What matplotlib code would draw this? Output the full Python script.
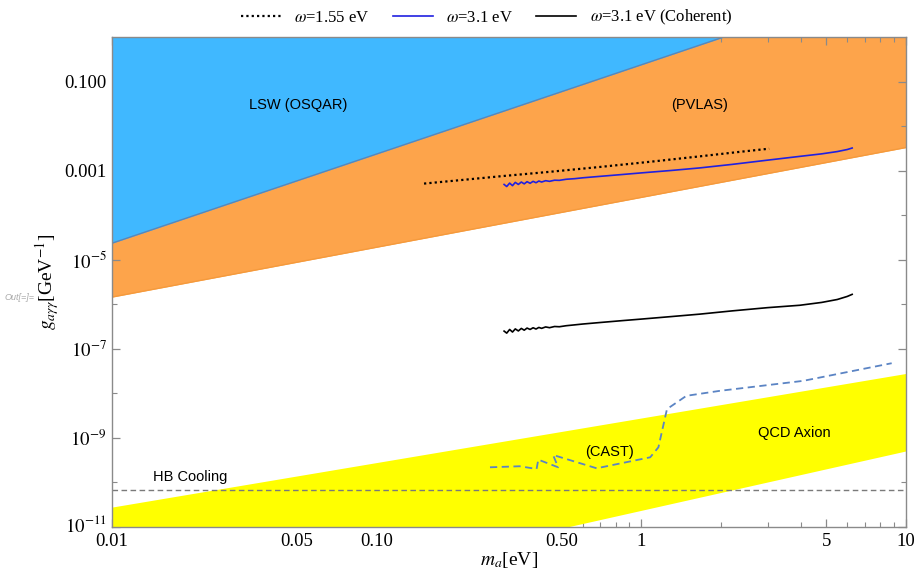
import matplotlib
matplotlib.use("Agg")
import matplotlib.pyplot as plt
import matplotlib.transforms as mtransforms
from matplotlib.ticker import FixedLocator, NullFormatter

# ---------------- data ----------------
lsw_m = [0.01, 2.1]
lsw_g = [2.35e-5, 1.05]

pvlas_m = [0.01, 10.0]
pvlas_g = [1.45e-6, 3.3e-3]

qcd_m = [0.01, 10.0]
qcd_upper = [2.8e-11, 2.8e-8]
qcd_lower = [5.1e-14, 5.1e-10]

hb_g = 6.7e-11

cast_m = [0.268, 0.347, 0.402, 0.408, 0.485, 0.464, 0.678, 1.08, 1.16, 1.25, 1.48, 1.98, 4.09, 8.83]
cast_g = [2.19e-10, 2.31e-10, 2.01e-10, 3.25e-10, 2.19e-10, 4.14e-10, 2.08e-10, 3.67e-10,
          6.15e-10, 4.44e-9, 8.81e-9, 1.14e-8, 1.91e-8, 4.75e-8]

w155_m = [0.151, 0.2, 0.292, 0.45, 0.698, 1.1, 1.66, 2.3, 3.04]
w155_g = [5.12e-4, 6.0e-4, 7.45e-4, 9.4e-4, 1.21e-3, 1.6e-3, 2.09e-3, 2.6e-3, 3.11e-3]

w31_m = [0.303, 0.31, 0.318, 0.326, 0.334, 0.343, 0.352, 0.361, 0.37, 0.38, 0.39, 0.40,
         0.41, 0.42, 0.435, 0.45, 0.47, 0.49, 0.52, 0.56, 0.60, 0.70, 0.85, 1.0, 1.3,
         1.66, 2.2, 3.0, 3.97, 4.8, 5.5, 6.0, 6.26]
w31_g = [4.9e-4, 4.4e-4, 5.25e-4, 4.6e-4, 5.45e-4, 4.9e-4, 5.55e-4, 5.05e-4, 5.65e-4, 5.2e-4,
         5.75e-4, 5.35e-4, 5.85e-4, 5.55e-4, 5.95e-4, 5.75e-4, 6.1e-4, 6.05e-4, 6.4e-4, 6.6e-4,
         6.9e-4, 7.45e-4, 8.2e-4, 8.9e-4, 1.01e-3, 1.15e-3, 1.38e-3, 1.72e-3, 2.09e-3,
         2.38e-3, 2.68e-3, 2.98e-3, 3.22e-3]

coh_m = w31_m
coh_g = [2.5e-7, 2.25e-7, 2.72e-7, 2.38e-7, 2.8e-7, 2.52e-7, 2.87e-7, 2.62e-7, 2.92e-7, 2.72e-7,
         2.97e-7, 2.78e-7, 3.02e-7, 2.88e-7, 3.1e-7, 2.98e-7, 3.17e-7, 3.13e-7, 3.3e-7, 3.45e-7,
         3.6e-7, 3.9e-7, 4.3e-7, 4.65e-7, 5.3e-7, 6.0e-7, 7.1e-7, 8.4e-7, 9.5e-7,
         1.1e-6, 1.28e-6, 1.5e-6, 1.67e-6]

y_major = [1e-1, 1e-3, 1e-5, 1e-7, 1e-9, 1e-11]
y_major_labels = ["0.100", "0.001", r"$10^{-5}$", r"$10^{-7}$", r"$10^{-9}$", r"$10^{-11}$"]
y_minor = [1e-2, 1e-4, 1e-6, 1e-8, 1e-10]

x_major = [0.01, 0.05, 0.1, 0.5, 1, 5, 10]
x_major_labels = ["0.01", "0.05", "0.10", "0.50", "1", "5", "10"]
x_minor = [0.02, 0.03, 0.04, 0.06, 0.07, 0.08, 0.09, 0.2, 0.3, 0.4, 0.6, 0.7, 0.8, 0.9,
           2, 3, 4, 6, 7, 8, 9]

# ---------------- style ----------------
plt.rcParams['font.family'] = ['Liberation Serif', 'DejaVu Serif']
plt.rcParams['mathtext.fontset'] = 'stix'

fig = plt.figure(figsize=(9.18, 5.74), dpi=100)
ax = fig.add_axes([112/918, 1-527/574, (906-112)/918, (527-37)/574])
ax.set_xscale('log')
ax.set_yscale('log')
ax.set_xlim(0.01, 10)
ax.set_ylim(1e-11, 1.0)

BLUE = "#40B8FF"
ORANGE = "#FDA44B"
YELLOW = "#FFFF00"

ax.fill_between(pvlas_m, pvlas_g, [10, 10], color=ORANGE, lw=0, zorder=1)
ax.plot(pvlas_m, pvlas_g, color="#F59A3C", lw=1.0, zorder=1.5)
ax.fill_between(lsw_m, lsw_g, [10, 10], color=BLUE, lw=0, zorder=2)
ax.plot(lsw_m, lsw_g, color="#5A86B8", lw=1.0, zorder=2.5)
ax.fill_between(qcd_m, qcd_lower, qcd_upper, color=YELLOW, lw=0, zorder=2)

ax.axhline(hb_g, color="#7a7a7a", lw=1.0, ls=(0, (4, 2.5)), zorder=3)
ax.plot(cast_m, cast_g, color="#5B84C4", lw=1.3, ls=(0, (4, 2.5)), zorder=3)

l1, = ax.plot(w155_m, w155_g, color="black", lw=1.6, ls=(0, (1, 1.4)), zorder=4)
l2, = ax.plot(w31_m, w31_g, color="#2020E0", lw=1.2, zorder=4)
l3, = ax.plot(coh_m, coh_g, color="black", lw=1.2, zorder=4)

sans = ['Liberation Sans', 'DejaVu Sans']
ax.text(0.0505, 0.030, "LSW (OSQAR)", family=sans, fontsize=10.5, ha='center', va='center', zorder=5)
ax.text(1.66, 0.030, "(PVLAS)", family=sans, fontsize=10.5, ha='center', va='center', zorder=5)
ax.text(0.76, 4.9e-10, "(CAST)", family=sans, fontsize=10.5, ha='center', va='center', zorder=5)
ax.text(3.8, 1.29e-9, "QCD Axion", family=sans, fontsize=10.5, ha='center', va='center', zorder=5)
ax.text(0.0197, 1.33e-10, "HB Cooling", family=sans, fontsize=10.5, ha='center', va='center', zorder=5)

# ticks
ax.yaxis.set_major_locator(FixedLocator(y_major))
ax.yaxis.set_minor_locator(FixedLocator(y_minor))
ax.set_yticklabels(y_major_labels)
ax.yaxis.set_minor_formatter(NullFormatter())
ax.xaxis.set_major_locator(FixedLocator(x_major))
ax.xaxis.set_minor_locator(FixedLocator(x_minor))
ax.set_xticklabels(x_major_labels)
ax.xaxis.set_minor_formatter(NullFormatter())

ax.tick_params(which='both', direction='in', top=True, right=True, color="#8a8a8a",
               labelsize=13.5)
ax.tick_params(axis='x', pad=4)
ax.tick_params(axis='y', pad=4)
ax.tick_params(which='major', length=6, width=0.9)
ax.tick_params(which='minor', length=3.5, width=0.8)
for sp in ax.spines.values():
    sp.set_color("#8a8a8a")
    sp.set_linewidth(1.0)
    sp.set_zorder(6)

# lift the lowest y tick label slightly (as in the reference)
lowest = ax.get_yticklabels()[-1]
lowest.set_transform(lowest.get_transform() +
                     mtransforms.ScaledTranslation(0, 4/100, fig.dpi_scale_trans))

ax.set_xlabel(r"$m_a$[eV]", fontsize=14, labelpad=0)
ax.set_ylabel(r"$g_{a\gamma\gamma}$[GeV$^{-1}$]", fontsize=14, labelpad=2)

fig.text(20/918, 1-297/574, "Out[=]=", fontsize=6.5, color="#aaaaaa", style='italic',
         ha='center', va='center', family=sans)

fig.legend([l1, l2, l3],
           [r"$\omega$=1.55 eV", r"$\omega$=3.1 eV", r"$\omega$=3.1 eV (Coherent)"],
           loc='upper center', bbox_to_anchor=(0.53, 1.012), ncol=3, frameon=False,
           fontsize=12, handlelength=2.4, columnspacing=1.4, handletextpad=0.8)

fig.savefig("out.png", dpi=100)
